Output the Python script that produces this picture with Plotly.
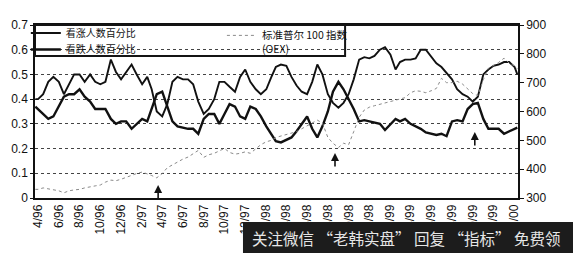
import plotly.graph_objects as go

# ---------------- data (semi-monthly readings) ----------------
dates = ["1996-03-24"]
for yy in range(1996, 2000 + 1):
    for mm in range(1, 13):
        if (yy, mm) < (1996, 4) or (yy, mm) > (2000, 1):
            continue
        dates.append(f"{yy}-{mm:02d}-01")
        dates.append(f"{yy}-{mm:02d}-16")
dates += ["2000-02-01", "2000-02-09"]

bull_pct = [0.40,
    0.40, 0.42, 0.47, 0.49, 0.47, 0.42, 0.46, 0.50, 0.50, 0.47,
    0.50, 0.47, 0.46, 0.47, 0.56, 0.51, 0.48, 0.51, 0.54, 0.50,
    0.46, 0.49, 0.44, 0.35, 0.33, 0.38, 0.47, 0.49, 0.48, 0.48,
    0.46, 0.39, 0.34, 0.36, 0.40, 0.47, 0.47, 0.45, 0.43, 0.49,
    0.52, 0.47, 0.44, 0.42, 0.44, 0.49, 0.53, 0.54, 0.535, 0.49,
    0.455, 0.43, 0.42, 0.47, 0.54, 0.50, 0.42, 0.385, 0.365, 0.385,
    0.42, 0.48, 0.56, 0.57, 0.565, 0.575, 0.60, 0.61, 0.58, 0.52,
    0.55, 0.56, 0.56, 0.565, 0.60, 0.60, 0.57, 0.545, 0.53, 0.505,
    0.48, 0.44, 0.42, 0.41, 0.39, 0.41, 0.50, 0.52, 0.535, 0.54,
    0.55, 0.55, 0.53,
    0.50]

bear_pct = [0.37,
    0.36, 0.34, 0.32, 0.33, 0.37, 0.41, 0.42, 0.42, 0.44, 0.41,
    0.39, 0.36, 0.36, 0.36, 0.32, 0.30, 0.31, 0.31, 0.28, 0.30,
    0.32, 0.31, 0.36, 0.42, 0.43, 0.37, 0.31, 0.29, 0.285, 0.28,
    0.28, 0.26, 0.32, 0.34, 0.34, 0.30, 0.34, 0.38, 0.37, 0.33,
    0.32, 0.37, 0.36, 0.33, 0.29, 0.26, 0.23, 0.225, 0.235, 0.245,
    0.27, 0.30, 0.33, 0.28, 0.245, 0.29, 0.35, 0.43, 0.47, 0.44,
    0.40, 0.36, 0.31, 0.315, 0.31, 0.305, 0.30, 0.275, 0.30, 0.32,
    0.31, 0.32, 0.30, 0.29, 0.28, 0.265, 0.26, 0.255, 0.26, 0.25,
    0.31, 0.315, 0.31, 0.36, 0.38, 0.385, 0.32, 0.28, 0.28, 0.28,
    0.26, 0.27, 0.28,
    0.285]

oex = [330,
    330, 335, 332, 328, 325, 318, 325, 328, 330, 335,
    340, 342, 345, 355, 362, 360, 365, 372, 378, 385,
    390, 385, 378, 370, 385, 405, 415, 425, 435, 442,
    455, 465, 441, 450, 455, 465, 472, 458, 452, 455,
    460, 455, 470, 485, 495, 500, 510, 515, 520, 525,
    530, 540, 550, 560, 570, 560, 510, 490, 475, 490,
    485, 530, 580, 605, 615, 620, 625, 630, 635, 640,
    645, 648, 665, 672, 670, 665, 672, 680, 715, 700,
    700, 705, 695, 680, 662, 655, 710, 750, 760, 770,
    785, 768, 758,
    748]

tick_labels = ["4/96", "6/96", "8/96", "10/96", "12/96", "2/97", "4/97", "6/97",
               "8/97", "10/97", "12/97", "2/98", "4/98", "6/98", "8/98", "10/98",
               "12/98", "2/99", "4/99", "6/99", "8/99", "10/99", "12/99", "2/00"]


def label_to_date(t):
    m, y = t.split("/")
    year = 2000 + int(y) if int(y) < 50 else 1900 + int(y)
    return f"{year}-{int(m):02d}-01"


tick_dates = [label_to_date(t) for t in tick_labels]

arrow_dates = ["1997-03-20", "1998-08-22", "1999-10-07"]
arrow_tips = [0.053, 0.182, 0.267]

names = ["看涨人数百分比", "看跌人数百分比", "标准普尔 100 指数<br>(OEX)"]

# ---------------- figure ----------------
fig = go.Figure()
fig.add_trace(go.Scatter(x=dates, y=bull_pct, mode="lines", name=names[0], showlegend=True,
                         line=dict(color="#111111", width=1.9), legend="legend"))
fig.add_trace(go.Scatter(x=dates, y=bear_pct, mode="lines", name=names[1], showlegend=True,
                         line=dict(color="#111111", width=2.4), legend="legend2"))
fig.add_trace(go.Scatter(x=dates, y=oex, mode="lines", name=names[2], yaxis="y2",
                         showlegend=True,
                         line=dict(color="#8a8a8a", width=1, dash="dot"), legend="legend3"))

num_font = dict(family="Liberation Sans, Arial, sans-serif", size=12, color="#111111")
cjk_font = dict(family="Noto Sans CJK SC, sans-serif", size=10, color="#111111")

fig.update_layout(
    width=573, height=253,
    showlegend=True,
    margin=dict(l=35, r=55, t=25, b=55),
    paper_bgcolor="white", plot_bgcolor="white",
    xaxis=dict(type="date", range=["1996-03-23", "2000-02-11"],
               tickvals=tick_dates, ticktext=tick_labels, tickangle=-90,
               tickfont=num_font, showgrid=False, showline=True, linecolor="#111111",
               linewidth=1.5, mirror="all", ticks="", zeroline=False),
    yaxis=dict(range=[0, 0.7], tickvals=[0, 0.1, 0.2, 0.3, 0.4, 0.5, 0.6, 0.7],
               ticktext=["0", "0.1", "0.2", "0.3", "0.4", "0.5", "0.6", "0.7"],
               tickfont=num_font, showgrid=True, gridcolor="#444444", griddash="dot",
               gridwidth=1, showline=True, linecolor="#111111", linewidth=1.5,
               ticks="outside", ticklen=3, tickcolor="#111111", zeroline=False),
    yaxis2=dict(range=[300, 900], overlaying="y", side="right",
                tickvals=[300, 400, 500, 600, 700, 800, 900], tickfont=num_font,
                showgrid=False, showline=True, linecolor="#111111", linewidth=1.5,
                ticks="outside", ticklen=4, tickcolor="#111111", zeroline=False),
    legend=dict(x=-0.019, y=0.954, xanchor="left", yanchor="middle",
                bgcolor="rgba(0,0,0,0)", font=cjk_font, itemwidth=30),
    legend2=dict(x=-0.019, y=0.858, xanchor="left", yanchor="middle",
                 bgcolor="rgba(0,0,0,0)", font=cjk_font, itemwidth=30),
    legend3=dict(x=0.387, y=1.017, xanchor="left", yanchor="top", valign="top",
                 bgcolor="rgba(0,0,0,0)",
                 font=dict(family="Noto Sans CJK SC, sans-serif", size=10.5, color="#111111"),
                 itemwidth=30),
)

# legend frame (white, hides grid beneath), top frame line, watermark band
fig.add_shape(type="rect", xref="paper", yref="paper", x0=0, x1=0.642, y0=0.821, y1=1.0,
              fillcolor="white", line=dict(color="rgb(20,20,20)", width=2), layer="between")
fig.add_shape(type="line", xref="paper", yref="paper", x0=0, x1=1, y0=1, y1=1,
              line=dict(color="rgb(20,20,20)", width=2), layer="above")
fig.add_shape(type="rect", xref="paper", yref="paper", x0=0.4306, x1=1.12, y0=-0.33, y1=-0.139,
              fillcolor="#1c1c1c", line=dict(width=0), layer="above")

for d, v in zip(arrow_dates, arrow_tips):
    fig.add_annotation(x=d, y=v, xref="x", yref="y", text="", showarrow=True,
                       ax=0, ay=15, arrowhead=2, arrowsize=1, arrowwidth=1.6,
                       arrowcolor="#111111")

fig.add_annotation(xref="paper", yref="paper", x=0.445, y=-0.231, xanchor="left",
                   yanchor="middle", showarrow=False,
                   text="关注微信 “老韩实盘” 回复 “指标” 免费领",
                   font=dict(family="Noto Sans CJK SC, sans-serif", size=15.5, color="#e6e6e6"))

fig.write_html("out.html")
